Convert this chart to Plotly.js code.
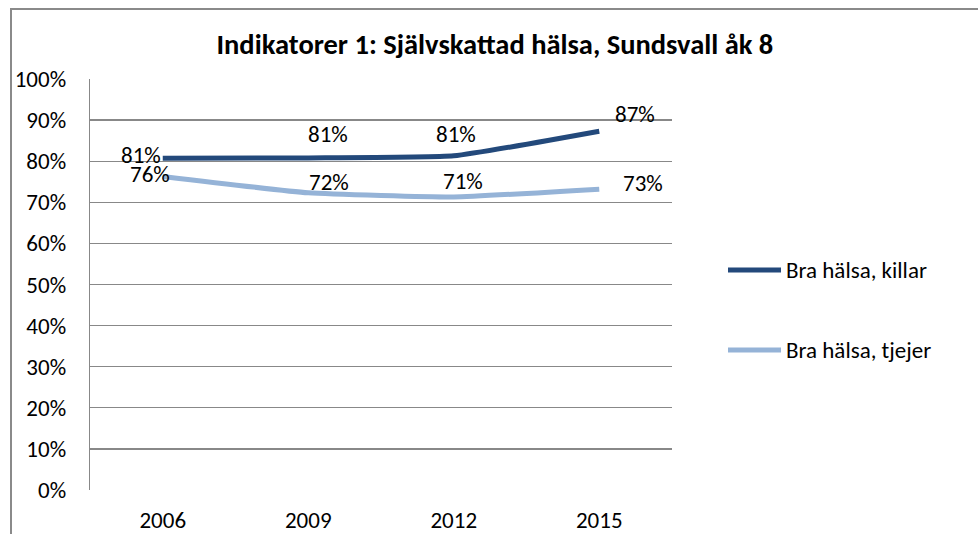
<!DOCTYPE html>
<html>
<head>
<meta charset="utf-8">
<script src="https://cdn.plot.ly/plotly-3.0.1.min.js"></script>
<style>
  html, body { margin:0; padding:0; background:#fff; }
  #frame { position:absolute; left:10px; top:8px; width:2000px; height:2000px;
           border-left:2px solid #8a8a8a; border-top:2px solid #8a8a8a; }
  #chart { position:absolute; left:0; top:0; width:978px; height:534px; }
</style>
</head>
<body>
<div id="frame"></div>
<div id="chart"></div>
<script>
const years = ['2006', '2009', '2012', '2015'];
const killar = [0.807, 0.808, 0.813, 0.873];
const tjejer = [0.763, 0.723, 0.713, 0.732];
const seriesNames = ['Bra hälsa, killar', 'Bra hälsa, tjejer'];
const seriesColors = ['#23497b', '#95b3d7'];
const titleText = 'Indikatorer 1: Självskattad hälsa, Sundsvall åk 8';

const FONT = 'Carlito, Calibri, Lato, sans-serif';
const FS = 23;

const traces = [killar, tjejer].map((vals, i) => ({
  x: years.map((_, k) => k), y: vals, type: 'scatter', mode: 'lines',
  name: seriesNames[i],
  line: { color: seriesColors[i], width: 5, shape: 'spline', smoothing: 0.4 },
  showlegend: false, hoverinfo: 'none'
}));

// label offsets (style only)
const offK = [[-22, 3], [20, 24], [2, 22], [36, 17]];
const offT = [[-13, 2], [21, 11], [9, 16], [44, 6]];
const annotations = [];
function pct(v) { return Math.round(v * 100) + '%'; }
killar.forEach((v, i) => annotations.push({
  x: i, y: v, xref: 'x', yref: 'y', text: pct(v), showarrow: false,
  xshift: offK[i][0], yshift: offK[i][1], font: { family: FONT, size: FS, color: '#000' }
}));
tjejer.forEach((v, i) => annotations.push({
  x: i, y: v, xref: 'x', yref: 'y', text: pct(v), showarrow: false,
  xshift: offT[i][0], yshift: offT[i][1], font: { family: FONT, size: FS, color: '#000' }
}));

// manual legend
const shapes = [];
const legPix = [270, 350];
seriesNames.forEach((n, i) => {
  const yy = (490 - legPix[i]) / 411;
  shapes.push({ type: 'line', xref: 'paper', yref: 'paper',
    x0: (728 - 90) / 582, x1: (781 - 90) / 582, y0: yy, y1: yy,
    line: { color: seriesColors[i], width: 5 } });
  annotations.push({ xref: 'paper', yref: 'paper',
    x: (784 - 90) / 582, y: yy,
    xanchor: 'left', yanchor: 'middle', text: n, showarrow: false,
    font: { family: FONT, size: FS, color: '#000' } });
});

const layout = {
  width: 978, height: 534,
  margin: { l: 90, r: 306, t: 79, b: 44 },
  paper_bgcolor: 'rgba(0,0,0,0)', plot_bgcolor: 'rgba(0,0,0,0)',
  font: { family: FONT, size: FS, color: '#000' },
  title: { text: '<b>' + titleText + '</b>', xref: 'container', yref: 'container',
           x: 0.506, y: 0.918, xanchor: 'center', yanchor: 'middle',
           font: { family: FONT, size: 28.5, color: '#000' } },
  xaxis: { type: 'linear', showgrid: false, showline: false, zeroline: false,
           ticks: '', ticklabelstandoff: 14, tickfont: { size: FS },
           tickvals: years.map((_, k) => k), ticktext: years,
           range: [-0.5, 3.5] },
  yaxis: { range: [0, 1], tickvals: [0,0.1,0.2,0.3,0.4,0.5,0.6,0.7,0.8,0.9,1],
           tickformat: '.0%', showgrid: true, gridcolor: '#888', gridwidth: 1.3,
           showline: true, linecolor: '#888', linewidth: 1.3, zeroline: false,
           ticks: '', ticklabelstandoff: 18, tickfont: { size: FS } },
  shapes: shapes,
  annotations: annotations
};

Plotly.newPlot('chart', traces, layout, { staticPlot: true });
</script>
</body>
</html>
